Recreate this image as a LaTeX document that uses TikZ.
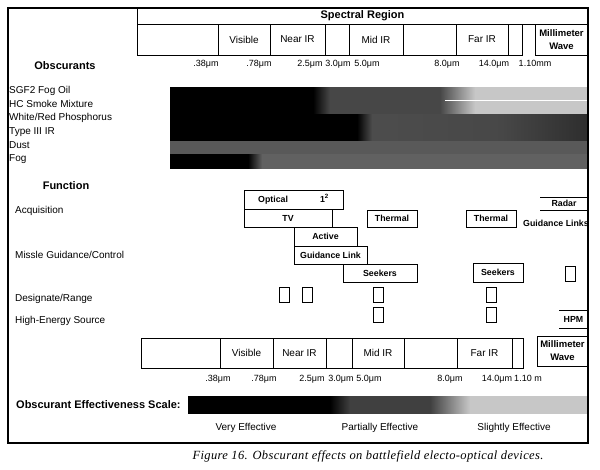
\documentclass[tikz,border=0pt]{standalone}
\usepackage{fontspec}
\setmainfont{Liberation Sans}
\newfontfamily\capfont[LetterSpace=3]{Liberation Serif}
\begin{document}
\begin{tikzpicture}[x=1pt, y=-1pt,
    cell/.style={draw, line width=0.5pt, inner sep=0pt, outer sep=0pt, anchor=north west, font=\fontsize{10}{12}\selectfont},
    fbox/.style={draw, line width=0.7pt, inner sep=0pt, outer sep=0pt, anchor=north west, font=\bfseries\fontsize{8.8}{10}\selectfont},
    sq/.style={draw, line width=0.6pt, inner sep=0pt, outer sep=0pt, anchor=north west, minimum width=10pt, minimum height=15pt},
    lbl/.style={font=\fontsize{10}{12}\selectfont, inner sep=0pt},
    wl/.style={font=\fontsize{9}{11}\selectfont, inner sep=0pt, anchor=base},
    head/.style={font=\bfseries\fontsize{11}{13}\selectfont, inner sep=0pt}]

    \useasboundingbox (0,0) rectangle (600,469);

    % Fasce oscuranti
    \foreach \xa/\xb/\ya/\yb/\ca/\cb in {170/313/87/114/black/black, 313/330/87/114/black/black!72, 330/440/87/114/black!72/black!72,
            440/475/87/114/black!72/black!22, 475/588/87/114/black!22/black!22,
            170/357/114/141/black/black, 357/372/114/141/black/black!70, 372/500/114/141/black!70/black!72, 500/588/114/141/black!72/black!82,
            170/588/141/154.5/black!65/black!65,
            170/248/154.5/168/black/black, 248/262/154.5/168/black/black!62, 262/588/154.5/168/black!62/black!62} {
            \shade[left color=\ca, right color=\cb] (\xa,\ya) rectangle (\xb,\yb);
        }
    \draw[white, line width=0.8pt] (445,100.5) -- (588,100.5);

    % Scala di efficacia
    \foreach \xa/\xb/\ca/\cb in {188/330/black/black, 330/350/black/black!75, 350/430/black!75/black!75,
            430/470/black!75/black!22, 470/588/black!22/black!22} {
            \shade[left color=\ca, right color=\cb] (\xa,396) rectangle (\xb,413);
        }

    % Cornice
    \draw[line width=1.6pt] (8,8) rectangle (588,443);

    % Regione spettrale in alto
    \node[cell, font=\bfseries\fontsize{11}{13}\selectfont, minimum width=451pt, minimum height=16pt] (spec) at (137,8) {Spectral Region};
    \foreach \a/\b/\t [count=\i] in {137/218/{}, 218/270/Visible, 270/325/Near IR, 325/349/{}, 349/403/Mid IR, 403/456/{}, 456/508/Far IR, 508/522/{}} {
            \node[cell, minimum width={(\b-\a)*1pt}, minimum height=31pt] (top\i) at (\a,24) {\t};
        }
    \node[cell, font=\bfseries\fontsize{9.5}{13}\selectfont, align=center, minimum width=53pt, minimum height=31pt] (mmtop) at (535,24) {Millimeter\\Wave};
    \foreach \x/\t [count=\i] in {206/.38μm, 259/.78μm, 310/2.5μm, 338/3.0μm, 367/5.0μm, 447/8.0μm, 494/14.0μm, 535/1.10mm} {
            \node[wl] (wlt\i) at (\x,66) {\t};
        }

    % Oscuranti
    \node[head, anchor=base] (obs) at (65,69.5) {Obscurants};
    \foreach \t [count=\i] in {SGF2 Fog Oil, HC Smoke Mixture, White/Red Phosphorus, Type III IR, Dust, Fog} {
            \node[lbl, anchor=base west] (obs\i) at (9, {80+13.6*\i}) {\t};
        }

    % Funzioni
    \node[head, anchor=base] (func) at (66,189.5) {Function};
    \foreach \y/\t [count=\i] in {213.5/Acquisition, 258.5/{Missle Guidance/Control}, 301.5/{Designate/Range}, 323.5/High-Energy Source} {
            \node[lbl, anchor=base west] (fn\i) at (15,\y) {\t};
        }
    \foreach \n/\xa/\ya/\xb/\yb/\t in {optical/244/190/343/209/{Optical\hspace{32pt}1\textsuperscript{2}}, tv/244/209/332/227/TV,
            thermA/367/210/417/227/Thermal, active/294/227/357/246/Active, glink/294/246/367/264/Guidance Link,
            seekA/343/264/417/282/Seekers, thermB/466/210/516/227/Thermal, seekB/473/263/523/282/Seekers} {
            \node[fbox, minimum width={(\xb-\xa)*1pt}, minimum height={(\yb-\ya)*1pt}] (\n) at (\xa,\ya) {\t};
        }
    \node[fbox, draw=none, minimum width=48pt, minimum height=13pt] (radar) at (540,197) {Radar};
    \draw[line width=0.7pt] (radar.north west) -- (radar.north east);
    \draw[line width=0.7pt] (radar.south west) -- (radar.south east);
    \node[fbox, draw=none, anchor=center] (glinks) at (556,223) {Guidance Links};
    \node[fbox, draw=none, minimum width=29pt, minimum height=18pt] (hpm) at (559,310) {HPM};
    \draw[line width=0.7pt] (hpm.north west) -- (hpm.north east);
    \draw[line width=0.7pt] (hpm.south west) -- (hpm.south east);
    \foreach \x/\y [count=\i] in {279/287, 302/287, 373/287, 486/287, 565/266, 373/307, 486/307} {
            \node[sq] (sq\i) at (\x,\y) {};
        }

    % Regione spettrale in basso
    \foreach \a/\b/\t [count=\i] in {141/220/{}, 220/273/Visible, 273/326/Near IR, 326/352/{}, 352/404/Mid IR, 404/457/{}, 457/512/Far IR, 512/523/{}} {
            \node[cell, minimum width={(\b-\a)*1pt}, minimum height=30pt] (bot\i) at (\a,338) {\t};
        }
    \node[cell, font=\bfseries\fontsize{9.5}{13}\selectfont, align=center, minimum width=51pt, minimum height=30pt] (mmbot) at (537,336) {Millimeter\\Wave};
    \foreach \x/\t [count=\i] in {218/.38μm, 264/.78μm, 312/2.5μm, 341/3.0μm, 369/5.0μm, 450/8.0μm, 497/14.0μm, 528/1.10 m} {
            \node[wl] (wlb\i) at (\x,381.5) {\t};
        }

    % Legenda
    \node[head, anchor=base west] (scale) at (16,408.5) {Obscurant Effectiveness Scale:};
    \foreach \x/\t [count=\i] in {246/Very Effective, 380/Partially Effective, 514/Slightly Effective} {
            \node[lbl, anchor=base] (eff\i) at (\x,430.5) {\t};
        }
    \node[anchor=base, inner sep=0pt, font=\capfont\itshape\fontsize{12.5}{14}\selectfont] (cap) at (368,459) {Figure 16. Obscurant effects on battlefield electo-optical devices.};
\end{tikzpicture}
\end{document}
